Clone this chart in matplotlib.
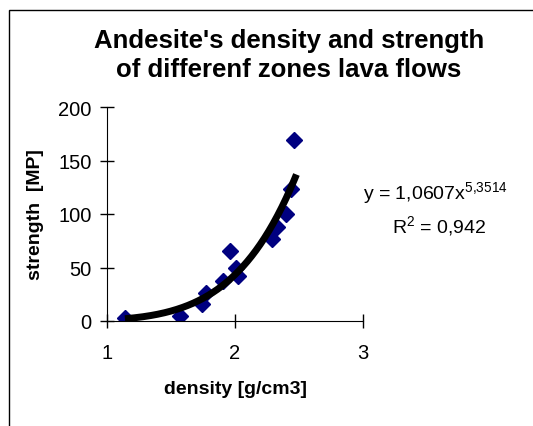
import numpy as np
import matplotlib.pyplot as plt
from matplotlib.patches import Rectangle

plt.rcParams['font.family'] = ['Liberation Sans', 'DejaVu Sans']
plt.rcParams['mathtext.fontset'] = 'custom'
plt.rcParams['mathtext.rm'] = 'Liberation Sans'

density = [1.14, 1.57, 1.74, 1.77, 1.91, 1.96, 2.01, 2.02, 2.29, 2.33, 2.40, 2.44, 2.46]
strength = [3, 5, 16, 26, 37, 65, 50, 42, 77, 88, 100, 123, 169]
coef_a = 1.0607
coef_b = 5.3514

fig = plt.figure(figsize=(5.33, 4.27), dpi=100)
fig.patches.append(Rectangle((9 / 533, -0.01), 1.02, 1 - 11 / 427 + 0.01,
                             transform=fig.transFigure, fill=False,
                             edgecolor='black', lw=1))
ax = fig.add_axes([107 / 533, 105 / 427, 256 / 533, 214 / 427])

xs = np.linspace(min(density), 2.48, 200)
ax.plot(xs, coef_a * xs ** coef_b, color='black', lw=5, zorder=3, solid_capstyle='butt')
ax.plot(density, strength, 'D', color='#000080', ms=8.5, zorder=2)

ax.set_xlim(1, 3)
ax.set_ylim(0, 200)
ax.set_xticks([1, 2, 3])
ax.set_yticks([0, 50, 100, 150, 200])
ax.tick_params(direction='inout', length=10, width=1, labelsize=14.5)
ax.tick_params(axis='y', pad=6)
ax.tick_params(axis='x', pad=11)
ax.spines['top'].set_visible(False)
ax.spines['right'].set_visible(False)
ax.set_xlabel('density [g/cm3]', fontsize=14, fontweight='bold', va='center')
ax.set_ylabel('strength  [MP]', fontsize=14, fontweight='bold', va='center')
ax.xaxis.set_label_coords(0.5, (322 - 390) / 214)
ax.yaxis.set_label_coords((36 - 107) / 256, 0.5)

fig.text(289 / 533, 1 - 41 / 427, "Andesite's density and strength",
         ha='center', va='center', fontsize=18.5, fontweight='bold')
fig.text(289 / 533, 1 - 70 / 427, "of differenf zones lava flows",
         ha='center', va='center', fontsize=18.5, fontweight='bold')
fig.text(363 / 533, 1 - 194 / 427, r'y = 1,0607x$^{\mathregular{5{,}3514}}$',
         ha='left', va='center', fontsize=14)
fig.text(439 / 533, 1 - 227 / 427, r'R$^{\mathregular{2}}$ = 0,942',
         ha='center', va='center', fontsize=14)

fig.savefig('out.png', dpi=100)
